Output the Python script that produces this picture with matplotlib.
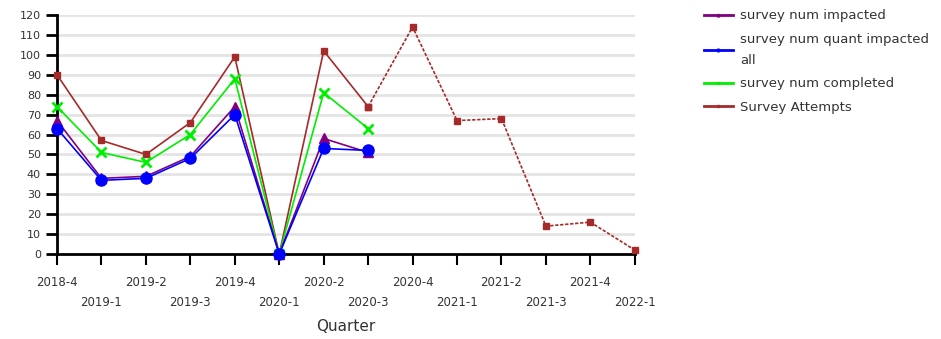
import numpy as np
import matplotlib.pyplot as plt

# quarters on the x axis
quarters = ['2018-4', '2019-1', '2019-2', '2019-3', '2019-4', '2020-1', '2020-2',
            '2020-3', '2020-4', '2021-1', '2021-2', '2021-3', '2021-4', '2022-1']

# series
num_impacted = [67, 38, 39, 49, 74, 0, 58, 51]
num_quant_impacted = [63, 37, 38, 48, 70, 0, 53, 52]
num_completed = [74, 51, 46, 60, 88, 0, 81, 63]
survey_attempts = [90, 57, 50, 66, 99, 0, 102, 74, 114, 67, 68, 14, 16, 2]
n_actual = 8  # attempts after this are projected (dashed)

x = np.arange(len(quarters))
xa = x[:n_actual]

fig = plt.figure(figsize=(9.41, 3.39), dpi=100)
ax = fig.add_axes([0.0606, 0.2507, 0.614, 0.705])

for v in range(0, 121, 10):
    ax.axhline(v, color='#e4e4e4', lw=2, zorder=0)

brown = '#a52a2a'
ax.plot(xa, survey_attempts[:n_actual], color=brown, lw=1.2, marker='s', ms=5,
        clip_on=False, zorder=3)
ax.plot(x[n_actual - 1:], survey_attempts[n_actual - 1:], color=brown, lw=1.2,
        ls=(0, (2, 1)), marker='s', ms=5, clip_on=False, zorder=3)
ax.plot(xa, num_completed, color='#00ee00', lw=1.2, marker='x', ms=7, mew=2,
        clip_on=False, zorder=4)
ax.plot(xa, num_impacted, color='#800080', lw=1.2, marker='^', ms=7,
        clip_on=False, zorder=5)
ax.plot(xa, num_quant_impacted, color='#0000ff', lw=1.2, marker='o', ms=8,
        clip_on=False, zorder=6)

ax.set_xlim(0, len(quarters) - 1)
ax.set_ylim(0, 120)
ax.set_yticks(range(0, 121, 10))
ax.set_xticks(x)
labels = [q if i % 2 == 0 else '\n' + q for i, q in enumerate(quarters)]
ax.set_xticklabels(labels, fontsize=8.5, color='#333333', linespacing=1.7)
ax.tick_params(axis='y', labelsize=8, labelcolor='#333333', length=8, width=2)
ax.tick_params(axis='x', length=8, width=1.5, pad=8)
for s in ['top', 'right']:
    ax.spines[s].set_visible(False)
ax.spines['left'].set_linewidth(2)
ax.spines['bottom'].set_linewidth(2)
ax.set_xlabel('Quarter', fontsize=11, color='#333333', labelpad=7)

# legend
handles = [
    plt.Line2D([], [], color='#800080', lw=2, marker='^', ms=2),
    plt.Line2D([], [], color='#0000ff', lw=2, marker='o', ms=2),
    plt.Line2D([], [], color='#00ee00', lw=2, marker='x', ms=2),
    plt.Line2D([], [], color=brown, lw=2, marker='s', ms=2),
]
names = ['survey num impacted', 'survey num quant impacted\nall',
         'survey num completed', 'Survey Attempts']
leg = fig.legend(handles, names, loc='upper left', bbox_to_anchor=(0.735, 1.008),
                 frameon=False, fontsize=9.5, handlelength=2.2, labelcolor='#333333',
                 labelspacing=0.8, handletextpad=0.6)
for t in leg.get_texts():
    t.set_linespacing(1.8)

fig.savefig('out.png', dpi=100)
